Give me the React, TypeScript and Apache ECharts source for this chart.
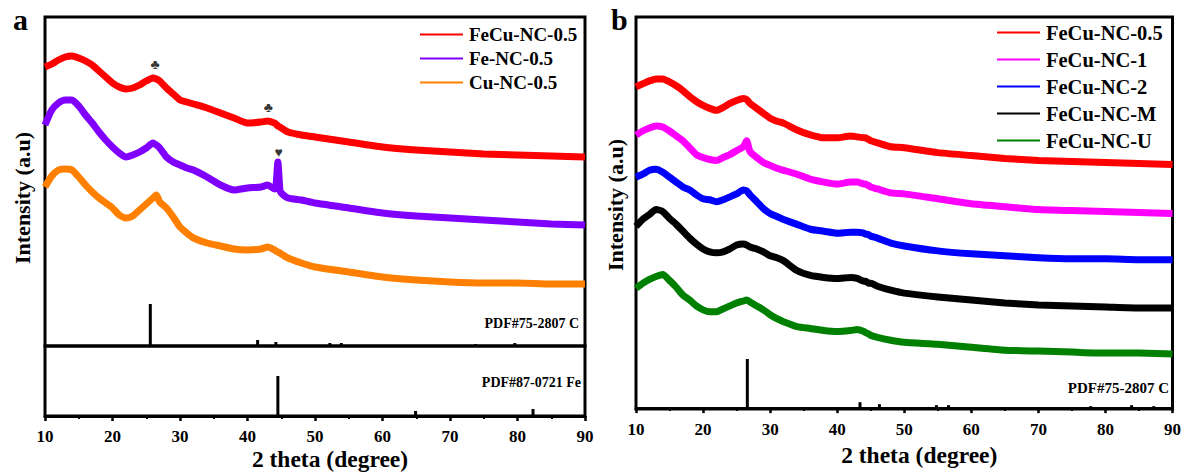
import React, { useEffect, useRef } from "react";
import * as echarts from "echarts";

// 2θ sample positions shared by all measured patterns
const twoTheta = [10, 11, 12, 13, 14, 15, 16, 17, 18, 19, 20, 21, 22, 23, 24, 25, 26, 26.5, 27, 28, 29, 30, 31, 32, 34, 36, 38, 40, 42, 43, 44, 44.2, 44.5, 44.8, 45, 46, 48, 50, 55, 60, 65, 70, 75, 80, 85, 90];

// Panel a (offset intensities, a.u.)
const aFeCuNC05 = [279, 282, 286, 289, 290, 288, 285, 281, 275, 269, 263, 259, 257, 258, 261, 265, 268, 267, 265, 258, 252, 246, 244, 242, 238, 233, 228, 223, 224, 225, 223, 222, 220, 219, 218, 214, 211, 209, 204, 199, 196, 194, 192, 191, 190, 189];
const aFeNC05 = [221, 236, 243, 246, 246, 240, 231, 223, 214, 206, 199, 193, 189, 191, 194, 198, 203, 201, 198, 189, 184, 181, 178, 176, 169, 161, 156, 158, 159, 161, 157, 158, 184, 156, 153, 148, 146, 143, 138, 133, 130, 128, 126, 124, 122, 121];
const aCuNC05 = [159, 170, 176, 177, 176, 169, 161, 154, 148, 143, 138, 131, 128, 130, 136, 142, 148, 151, 144, 138, 129, 119, 113, 108, 103, 100, 97, 96, 97, 99, 96, 95, 94, 93, 92, 88, 83, 79, 74, 69, 66, 64, 63, 63, 62, 62];

// Panel b
const bFeCuNC05 = [327, 330, 333, 335, 335, 332, 328, 323, 317, 312, 308, 305, 303, 306, 310, 313, 315, 314, 310, 305, 300, 295, 292, 290, 283, 278, 275, 275, 277, 276, 275, 275, 274, 273, 272, 270, 266, 265, 260, 257, 254, 252, 251, 250, 249, 248];
const bFeCuNC1 = [278, 282, 285, 287, 286, 282, 277, 272, 265, 258, 255, 253, 252, 255, 258, 262, 266, 272, 261, 255, 250, 247, 244, 242, 238, 233, 230, 228, 230, 230, 228, 228, 227, 226, 225, 223, 219, 218, 213, 208, 205, 202, 201, 200, 199, 198];
const bFeCuNC2 = [235, 238, 242, 243, 240, 235, 230, 225, 222, 217, 213, 212, 210, 212, 215, 218, 222, 221, 217, 210, 203, 198, 195, 192, 187, 182, 180, 178, 179, 179, 178, 177, 177, 176, 175, 173, 168, 165, 160, 157, 155, 153, 152, 152, 151, 151];
const bFeCuNCM = [185, 192, 197, 202, 200, 193, 187, 180, 173, 167, 162, 159, 158, 159, 162, 166, 167, 166, 164, 162, 159, 155, 153, 150, 140, 135, 133, 132, 133, 132, 129, 129, 128, 127, 127, 124, 120, 117, 113, 110, 107, 105, 104, 103, 102, 102];
const bFeCuNCU = [122, 127, 131, 134, 136, 130, 123, 115, 110, 104, 100, 98, 98, 101, 104, 107, 109, 110, 108, 104, 100, 95, 91, 88, 83, 81, 79, 78, 79, 80, 78, 77, 76, 75, 74, 72, 69, 67, 65, 62, 59, 58, 57, 56, 56, 55];

// Reference stick patterns
const pdfCaPos = [25.6, 41.5, 44.2, 52.2, 53.9, 60.6, 73.8, 76.8, 79.6, 83.0];
const pdfCaInt = [42, 6, 4, 3, 3, 1, 2, 1, 3, 1];
const pdfFePos = [44.5, 64.9, 82.3];
const pdfFeInt = [40, 5, 7];
const pdfCbPos = [26.6, 43.4, 46.3, 54.8, 56.6, 63.7, 77.8, 83.9, 87.2];
const pdfCbInt = [50, 6, 4, 3, 3, 1, 2, 3, 2];

// Peak markers in panel a
const markX = [26.3, 43.1, 44.6];
const markY = [282, 239, 194];
const markSym = ["♣", "♣", "♥"];

const xTicks = [10, 20, 30, 40, 50, 60, 70, 80, 90];

const SERIF = '"Liberation Serif", "Times New Roman", serif';

const pair = (ys: number[]) => twoTheta.map((x, i) => [x, ys[i]]);

const stickRender = (params: any, api: any) => {
  const b = api.coord([api.value(0), 0]);
  const t = api.coord([api.value(0), api.value(1)]);
  return {
    type: "line",
    shape: { x1: b[0], y1: b[1], x2: t[0], y2: t[1] },
    style: { stroke: "#000", lineWidth: 3 },
  };
};

export default function App() {
  const ref = useRef<HTMLDivElement>(null);
  useEffect(() => {
    if (!ref.current) return;
    const chart = echarts.init(ref.current, undefined, { renderer: "svg" });

    const lineSeries = (name: string, ys: number[], color: string, xi: number, yi: number) => ({
      type: "line",
      name,
      data: pair(ys),
      xAxisIndex: xi,
      yAxisIndex: yi,
      symbol: "none",
      smooth: 0.2,
      lineStyle: { color, width: 7, join: "round" },
      itemStyle: { color },
      z: 3,
    });

    const labelAxis = (gridIndex: number) => ({
      type: "value",
      gridIndex,
      min: 10,
      max: 90,
      interval: 10,
      axisLine: { show: true, lineStyle: { color: "#000", width: 3 } },
      axisTick: { show: true, inside: false, length: 5, lineStyle: { color: "#000", width: 2.5 } },
      minorTick: { show: true, splitNumber: 2, length: 3, lineStyle: { color: "#000", width: 2 } },
      splitLine: { show: false },
      axisLabel: {
        show: true,
        margin: 12,
        fontSize: 17,
        fontWeight: "bold",
        fontFamily: SERIF,
        color: "#000",
        customValues: xTicks,
      },
      name: "2 theta (degree)",
      nameLocation: "middle",
      nameGap: 31,
      nameTextStyle: { fontSize: 23.5, fontWeight: "bold", fontFamily: SERIF, color: "#000", padding: [0, 0, 0, 30] },
    });

    const bareX = (gridIndex: number) => ({
      type: "value",
      gridIndex,
      min: 10,
      max: 90,
      show: false,
    });

    const bareY = (gridIndex: number, min: number, max: number) => ({
      type: "value",
      gridIndex,
      min,
      max,
      axisLine: { show: false },
      axisTick: { show: false },
      axisLabel: { show: false },
      splitLine: { show: false },
    });

    const option: any = {
      animation: false,
      backgroundColor: "#fff",
      grid: [
        { left: 45, top: 17, width: 540, height: 329, show: true, borderColor: "#000", borderWidth: 3, backgroundColor: "transparent" },
        { left: 45, top: 346, width: 540, height: 70, show: true, borderColor: "#000", borderWidth: 3, backgroundColor: "transparent" },
        { left: 636, top: 17, width: 538, height: 399, show: true, borderColor: "#000", borderWidth: 3, backgroundColor: "transparent" },
      ],
      xAxis: [bareX(0), labelAxis(1), labelAxis(2)],
      yAxis: [bareY(0, 0, 329), bareY(1, 0, 70), bareY(2, -1, 398)],
      legend: [
        {
          orient: "vertical",
          left: 415,
          top: 20,
          itemWidth: 43,
          itemHeight: 2,
          itemGap: 5,
          icon: "rect",
          data: ["FeCu-NC-0.5", "Fe-NC-0.5", "Cu-NC-0.5"],
          textStyle: { fontSize: 19, fontWeight: "bold", fontFamily: SERIF, color: "#000", padding: [0, 0, 0, 1] },
        },
        {
          orient: "vertical",
          left: 992,
          top: 17,
          itemWidth: 43,
          itemHeight: 2,
          itemGap: 6,
          icon: "rect",
          data: ["FeCu-NC-0.5", "FeCu-NC-1", "FeCu-NC-2", "FeCu-NC-M", "FeCu-NC-U"],
          textStyle: { fontSize: 20.5, fontWeight: "bold", fontFamily: SERIF, color: "#000", padding: [0, 0, 0, 1] },
        },
      ],
      series: [
        lineSeries("FeCu-NC-0.5", aFeCuNC05, "#ff0000", 0, 0),
        lineSeries("Fe-NC-0.5", aFeNC05, "#8000ff", 0, 0),
        lineSeries("Cu-NC-0.5", aCuNC05, "#ff8000", 0, 0),
        lineSeries("FeCu-NC-0.5", bFeCuNC05, "#ff0000", 2, 2),
        lineSeries("FeCu-NC-1", bFeCuNC1, "#ff00ff", 2, 2),
        lineSeries("FeCu-NC-2", bFeCuNC2, "#0000ff", 2, 2),
        lineSeries("FeCu-NC-M", bFeCuNCM, "#000000", 2, 2),
        lineSeries("FeCu-NC-U", bFeCuNCU, "#008000", 2, 2),
        {
          type: "custom",
          name: "PDF#75-2807 C (a)",
          xAxisIndex: 0,
          yAxisIndex: 0,
          renderItem: stickRender,
          data: pdfCaPos.map((x, i) => [x, pdfCaInt[i]]),
        },
        {
          type: "custom",
          name: "PDF#87-0721 Fe",
          xAxisIndex: 1,
          yAxisIndex: 1,
          renderItem: stickRender,
          data: pdfFePos.map((x, i) => [x, pdfFeInt[i]]),
        },
        {
          type: "custom",
          name: "PDF#75-2807 C (b)",
          xAxisIndex: 2,
          yAxisIndex: 2,
          renderItem: stickRender,
          data: pdfCbPos.map((x, i) => [x, pdfCbInt[i]]),
        },
        {
          type: "scatter",
          name: "markers",
          xAxisIndex: 0,
          yAxisIndex: 0,
          symbolSize: 1,
          itemStyle: { color: "transparent" },
          data: markX.map((x, i) => [x, markY[i], markSym[i]]),
          label: {
            show: true,
            position: "inside",
            formatter: (p: any) => p.value[2],
            fontSize: 14,
            color: "#000",
          },
          z: 5,
        },
      ],
      graphic: [
        { type: "text", x: 13, y: 4, style: { text: "a", font: `bold 30px ${SERIF}`, fill: "#000" } },
        { type: "text", x: 611, y: 4, style: { text: "b", font: `bold 30px ${SERIF}`, fill: "#000" } },
        {
          type: "text", x: 22, y: 198, rotation: Math.PI / 2,
          style: { text: "Intensity (a.u)", font: `bold 22px ${SERIF}`, fill: "#000", textAlign: "center", textVerticalAlign: "middle" },
        },
        {
          type: "text", x: 615, y: 205, rotation: Math.PI / 2,
          style: { text: "Intensity (a.u)", font: `bold 22px ${SERIF}`, fill: "#000", textAlign: "center", textVerticalAlign: "middle" },
        },
        {
          type: "text", x: 579, y: 323,
          style: { text: "PDF#75-2807 C", font: `bold 14px ${SERIF}`, fill: "#000", textAlign: "right", textVerticalAlign: "middle" },
        },
        {
          type: "text", x: 581, y: 382,
          style: { text: "PDF#87-0721 Fe", font: `bold 14px ${SERIF}`, fill: "#000", textAlign: "right", textVerticalAlign: "middle" },
        },
        {
          type: "text", x: 1169, y: 388,
          style: { text: "PDF#75-2807 C", font: `bold 15px ${SERIF}`, fill: "#000", textAlign: "right", textVerticalAlign: "middle" },
        },
      ],
    };

    chart.setOption(option);
    return () => chart.dispose();
  }, []);

  return <div ref={ref} style={{ position: "fixed", left: 0, top: 0, width: 1184, height: 472 }} />;
}
